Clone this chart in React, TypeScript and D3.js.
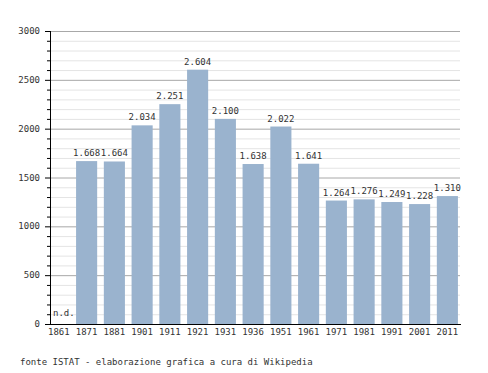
import * as d3 from "d3";

const years = ["1861", "1871", "1881", "1901", "1911", "1921", "1931", "1936", "1951", "1961", "1971", "1981", "1991", "2001", "2011"];
const population: (number | null)[] = [null, 1668, 1664, 2034, 2251, 2604, 2100, 1638, 2022, 1641, 1264, 1276, 1249, 1228, 1310];
const yTicks = [0, 500, 1000, 1500, 2000, 2500, 3000];
const footer = "fonte ISTAT - elaborazione grafica a cura di Wikipedia";

const width = 488;
const height = 373;
const font = "'DejaVu Sans Mono', monospace";

const App = () => {
  const x = d3
    .scaleBand<string>()
    .domain(years)
    .range([45, 461.25])
    .paddingInner(0.24)
    .paddingOuter(0.12);

  const y = d3.scaleLinear().domain([0, 3000]).range([324, 31]);

  const minor = d3.range(0, 3001, 100);
  const fmt = (v: number) => d3.format(",")(v).replace(",", ".");

  return (
    <svg
      width={width}
      height={height}
      style={{ position: "absolute", left: 0, top: 0, background: "#fff" }}
    >
      {/* grid */}
      {minor.map((v) => (
        <line
          key={"g" + v}
          x1={50}
          x2={460}
          y1={y(v) + 0.5}
          y2={y(v) + 0.5}
          stroke={v % 500 === 0 ? "#a8a8a8" : "#e4e4e4"}
          strokeWidth={1}
        />
      ))}

      {/* bars */}
      {years.map((yr, i) => {
        const v = population[i];
        if (v === null) {
          return (
            <text key={yr} x={53} y={316} fontFamily={font} fontSize={9} fill="#333">
              n.d.
            </text>
          );
        }
        return (
          <g key={yr}>
            <rect
              x={x(yr)}
              y={y(v)}
              width={x.bandwidth()}
              height={y(0) - y(v)}
              fill="#9ab3ce"
            />
            <text
              x={(x(yr) ?? 0) + x.bandwidth() / 2}
              y={y(v) - 5}
              textAnchor="middle"
              fontFamily={font}
              fontSize={9}
              fill="#333"
            >
              {fmt(v)}
            </text>
          </g>
        );
      })}

      {/* y axis */}
      <line x1={50.5} x2={50.5} y1={31} y2={324} stroke="#000" />
      {minor.map((v) => (
        <line
          key={"t" + v}
          x1={v % 500 === 0 ? 45 : 47}
          x2={50}
          y1={y(v) + 0.5}
          y2={y(v) + 0.5}
          stroke="#000"
        />
      ))}
      {yTicks.map((v) => (
        <text
          key={"l" + v}
          x={40}
          y={y(v) + 3}
          textAnchor="end"
          fontFamily={font}
          fontSize={9}
          fill="#333"
        >
          {v}
        </text>
      ))}

      {/* x axis */}
      <line x1={45} x2={461} y1={324.5} y2={324.5} stroke="#000" />
      {years.map((yr) => (
        <text
          key={"x" + yr}
          x={(x(yr) ?? 0) + x.bandwidth() / 2}
          y={335}
          textAnchor="middle"
          fontFamily={font}
          fontSize={9}
          fill="#333"
        >
          {yr}
        </text>
      ))}

      <text x={20} y={365} fontFamily={font} fontSize={9} fill="#333">
        {footer}
      </text>
    </svg>
  );
};

export default App;
